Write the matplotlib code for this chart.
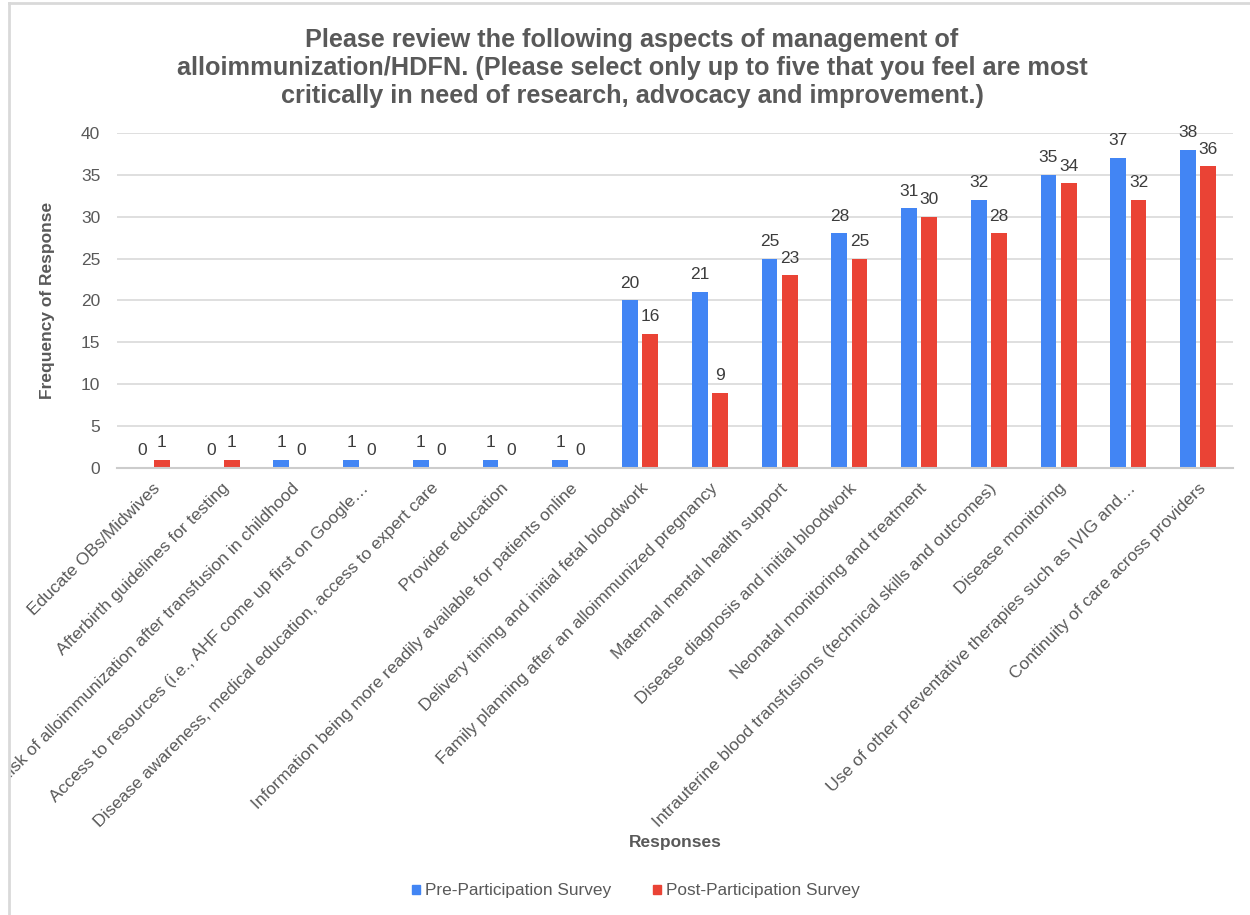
import numpy as np
import matplotlib.pyplot as plt
from matplotlib.transforms import Bbox, TransformedBbox
from matplotlib.patches import Patch

plt.rcParams['font.family'] = ['Liberation Sans', 'DejaVu Sans']

# Respuestas de la encuesta
categorias = [
    "Educate OBs/Midwives",
    "Afterbirth guidelines for testing",
    "Risk of alloimmunization after transfusion in childhood",
    "Access to resources (i.e., AHF come up first on Google…",
    "Disease awareness, medical education, access to expert care",
    "Provider education",
    "Information being more readily available for patients online",
    "Delivery timing and initial fetal bloodwork",
    "Family planning after an alloimmunized pregnancy",
    "Maternal mental health support",
    "Disease diagnosis and initial bloodwork",
    "Neonatal monitoring and treatment",
    "Intrauterine blood transfusions (technical skills and outcomes)",
    "Disease monitoring",
    "Use of other preventative therapies such as IVIG and…",
    "Continuity of care across providers",
]
pre_encuesta = [0, 0, 1, 1, 1, 1, 1, 20, 21, 25, 28, 31, 32, 35, 37, 38]
post_encuesta = [1, 1, 0, 0, 0, 0, 0, 16, 9, 23, 25, 30, 28, 34, 32, 36]
ticks_y = [0, 5, 10, 15, 20, 25, 30, 35, 40]

azul = '#4285F4'
rojo = '#EA4335'
gris_texto = '#595959'

fig = plt.figure(figsize=(12.5, 9.15), dpi=100)
ax = fig.add_axes([117 / 1250, 1 - 468 / 915, 1116 / 1250, 335 / 915])

x = np.arange(len(categorias))
ancho = 0.225
desp = 0.145
barras_pre = ax.bar(x - desp, pre_encuesta, ancho, color=azul, zorder=3)
barras_post = ax.bar(x + desp, post_encuesta, ancho, color=rojo, zorder=3)

# Etiquetas de valor encima de cada barra
for barras in (barras_pre, barras_post):
    for b in barras:
        ax.annotate(str(int(b.get_height())),
                    (b.get_x() + b.get_width() / 2, b.get_height()),
                    xytext=(0, 7), textcoords='offset points',
                    ha='center', va='bottom', fontsize=12.5, color='#3c3c3c')

ax.set_xlim(-0.5, len(categorias) - 0.5)
ax.set_ylim(0, 40)
ax.set_yticks(ticks_y)
ax.tick_params(axis='y', length=0, pad=12, labelsize=12.5, labelcolor=gris_texto)
ax.tick_params(axis='x', length=0, pad=9)
ax.grid(axis='y', color='#d9d9d9', linewidth=1.2, zorder=0)
for lado in ['top', 'right', 'left']:
    ax.spines[lado].set_visible(False)
ax.spines['bottom'].set_color('#cccccc')
ax.spines['bottom'].set_linewidth(1.5)
ax.spines['bottom'].set_zorder(4)

ax.set_xticks(x)
etiquetas = ax.set_xticklabels(categorias, rotation=45, ha='right', va='top',
                               rotation_mode='anchor', fontsize=12.6, color=gris_texto)

# Recortar las etiquetas largas en el borde izquierdo del marco
caja = TransformedBbox(Bbox([[9.5 / 1250, 0], [1, 1]]), fig.transFigure)
for t in etiquetas:
    t.set_clip_box(caja)
    t.set_clip_on(True)

ax.set_ylabel('Frequency of Response', fontsize=12.5, fontweight='bold',
              color=gris_texto)
ax.yaxis.set_label_coords(-0.056, 0.5)

fig.text(632 / 1250, 1 - 68 / 915,
         "Please review the following aspects of management of\n"
         "alloimmunization/HDFN. (Please select only up to five that you feel are most\n"
         "critically in need of research, advocacy and improvement.)",
         ha='center', va='center', fontsize=18.2, fontweight='bold',
         color=gris_texto, linespacing=1.2)

fig.text(675 / 1250, 1 - 843 / 915, 'Responses', ha='center', va='center',
         fontsize=12.5, fontweight='bold', color=gris_texto)

manejadores = [Patch(color=azul), Patch(color=rojo)]
fig.legend(manejadores, ['Pre-Participation Survey', 'Post-Participation Survey'],
           loc='center', bbox_to_anchor=(636 / 1250, 1 - 891 / 915), ncol=2,
           frameon=False, fontsize=12.4, handlelength=0.45, handleheight=0.45,
           handletextpad=0.3, columnspacing=2.4, labelcolor=gris_texto)

# Marco gris claro del gráfico
fig.add_artist(plt.Line2D([8.5 / 1250, 8.5 / 1250], [0, 1 - 3 / 915],
                          color='#d9d9d9', linewidth=2, transform=fig.transFigure))
fig.add_artist(plt.Line2D([8.5 / 1250, 1], [1 - 3 / 915, 1 - 3 / 915],
                          color='#d9d9d9', linewidth=2, transform=fig.transFigure))

fig.savefig('out.png', dpi=100, facecolor='white')
